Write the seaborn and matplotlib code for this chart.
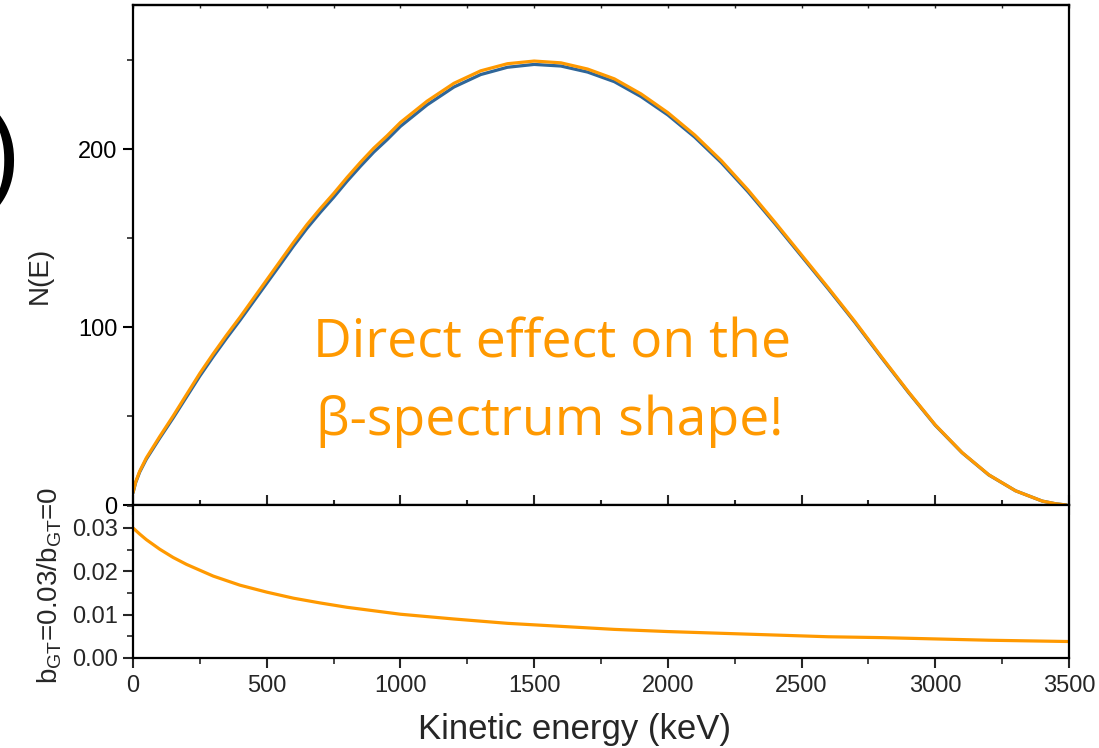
import numpy as np
import pandas as pd
import matplotlib
matplotlib.use("Agg")
import matplotlib.pyplot as plt
import seaborn as sns
from matplotlib.ticker import MultipleLocator, FixedLocator, NullFormatter

# ---------------- data ----------------
energy_keV = [0, 10, 25, 50, 75, 100, 150, 200, 250, 300, 350, 400, 450, 500, 550, 600, 650, 700,
              750, 800, 850, 900, 950, 1000, 1100, 1200, 1300, 1400, 1500, 1600, 1700,
              1800, 1900, 2000, 2100, 2200, 2300, 2400, 2500, 2600, 2700, 2800, 2900,
              3000, 3100, 3200, 3300, 3400, 3450, 3490]
n_bgt_003 = [7, 13, 19, 26.5, 32.5, 38.5, 50, 62, 74, 85, 95.5, 105.5, 116, 126.5, 137, 147.5, 157.5, 166.5,
             175, 184, 192.5, 200.5, 207.5, 215, 227, 237, 244, 248, 249.5, 248.5, 245,
             239.5, 231, 220.5, 208, 193.5, 177, 159, 140.5, 122, 103, 83, 63.5,
             45, 29.5, 17, 8, 2.2, 0.7, 0]
n_bgt_0 = [6.8, 12.6, 18.5, 25.8, 31.7, 37.6, 48.9, 60.7, 72.5, 83.4, 93.8, 103.8, 114.2, 124.6, 135.0, 145.5, 155.4, 164.4,
           172.9, 181.9, 190.3, 198.3, 205.3, 212.8, 224.9, 234.9, 241.9, 246.0, 247.6, 246.7, 243.3,
           237.9, 229.5, 219.2, 206.8, 192.4, 176.0, 158.2, 139.8, 121.4, 102.5, 82.6, 63.2,
           44.8, 29.4, 16.9, 8.0, 2.2, 0.7, 0]

ratio_energy = [0, 25, 50, 100, 150, 200, 300, 400, 500, 600, 700, 800, 900, 1000, 1200,
                1400, 1600, 1800, 2000, 2200, 2400, 2600, 2800, 3000, 3200, 3400, 3500]
ratio_vals = [0.0300, 0.0286, 0.0273, 0.0251, 0.0232, 0.0216, 0.0189, 0.0168, 0.0152,
              0.0138, 0.0127, 0.0117, 0.0109, 0.0101, 0.0090, 0.0080, 0.0073, 0.0066,
              0.0061, 0.0057, 0.0053, 0.0049, 0.0047, 0.0044, 0.0041, 0.0039, 0.0038]

x_ticks = [0, 500, 1000, 1500, 2000, 2500, 3000, 3500]
top_yticks = [0, 100, 200]
bot_yticks = [0.00, 0.01, 0.02, 0.03]
bot_ylabels = ["0.00", "0.01", "0.02", "0.03"]

ORANGE = "#FF9900"
BLUE = "#2F6699"

sns.set_theme(style="ticks")
plt.rcParams["font.family"] = ["Liberation Sans", "DejaVu Sans"]
plt.rcParams["mathtext.fontset"] = "custom"
plt.rcParams["mathtext.rm"] = "Liberation Sans"
plt.rcParams["mathtext.it"] = "Liberation Sans"

W, H = 1099, 748
fig = plt.figure(figsize=(W / 100, H / 100), dpi=100)
L, R = 133 / W, 1069 / W
ax1 = fig.add_axes([L, 1 - 505 / H, R - L, (505 - 5) / H])
ax2 = fig.add_axes([L, 1 - 658 / H, R - L, (658 - 505) / H])

df_top = pd.DataFrame({"E": energy_keV * 2,
                       "N": n_bgt_0 + n_bgt_003,
                       "s": ["b0"] * len(energy_keV) + ["b003"] * len(energy_keV)})
sns.lineplot(data=df_top, x="E", y="N", hue="s", palette={"b0": BLUE, "b003": ORANGE},
             linewidth=2.3, legend=False, ax=ax1, sort=False)
df_bot = pd.DataFrame({"E": ratio_energy, "r": ratio_vals})
sns.lineplot(data=df_bot, x="E", y="r", color=ORANGE, linewidth=2.3, ax=ax2)

for ax in (ax1, ax2):
    ax.set_xlim(0, 3500)
    for sp in ax.spines.values():
        sp.set_visible(True)
        sp.set_color("black")
        sp.set_linewidth(1.6)
    ax.set_xlabel("")
    ax.set_ylabel("")

TICK_FS = 17

ax1.set_ylim(0, 281)
ax1.yaxis.set_major_locator(FixedLocator(top_yticks))
ax1.yaxis.set_minor_locator(MultipleLocator(50))
ax1.xaxis.set_major_locator(FixedLocator(x_ticks))
ax1.xaxis.set_minor_locator(MultipleLocator(250))
ax1.tick_params(axis="x", which="major", direction="inout", length=14, width=1.5,
                bottom=True, top=False, labelbottom=False)
ax1.tick_params(axis="x", which="minor", direction="inout", length=7, width=1.5,
                bottom=True, top=False)
ax1.tick_params(axis="y", which="major", direction="out", length=7, width=1.5,
                labelsize=TICK_FS, pad=4, colors="black")
ax1.tick_params(axis="y", which="minor", direction="out", length=4, width=1.2, left=True)
sec = ax1.secondary_xaxis("top")
sec.xaxis.set_major_locator(FixedLocator(x_ticks))
sec.xaxis.set_minor_locator(MultipleLocator(250))
sec.xaxis.set_major_formatter(NullFormatter())
sec.tick_params(axis="x", which="both", direction="in", length=2, width=1.0)
sec.spines["top"].set_linewidth(1.6)

ax2.set_ylim(0, 0.0353)
ax2.yaxis.set_major_locator(FixedLocator(bot_yticks))
ax2.set_yticklabels(bot_ylabels)
ax2.yaxis.set_minor_locator(MultipleLocator(0.005))
ax2.xaxis.set_major_locator(FixedLocator(x_ticks))
ax2.xaxis.set_minor_locator(MultipleLocator(250))
ax2.tick_params(axis="x", which="major", direction="out", length=7, width=1.5,
                labelsize=TICK_FS, pad=5)
ax2.tick_params(axis="x", which="minor", direction="out", length=4, width=1.2, bottom=True)
ax2.tick_params(axis="y", which="major", direction="out", length=7, width=1.5,
                labelsize=TICK_FS, pad=4)
ax2.tick_params(axis="y", which="minor", direction="out", length=4, width=1.2, left=True)

fig.text(575 / W, 1 - 730 / H, "Kinetic energy (keV)", fontsize=25, ha="center", va="center")
fig.text(40 / W, 1 - 275 / H, "N(E)", rotation=90, fontsize=20, ha="center", va="center")
fig.text(50 / W, 1 - 585 / H, r"b$_{\mathrm{GT}}$=0.03/b$_{\mathrm{GT}}$=0", rotation=90,
         fontsize=20, ha="center", va="center")

txt_kw = dict(ha="center", va="baseline", color=ORANGE, fontsize=38.5,
              family=["Open Sans", "DejaVu Sans"])
fig.text(552 / W, 1 - 358 / H, "Direct effect on the", **txt_kw)
fig.text(550 / W, 1 - 435 / H, "β-spectrum shape!", **txt_kw)

# large cropped parenthesis on the far left (cut at the edge as in the reference)
fig.text(22 / W, 1 - 160 / H, ")", fontsize=78, ha="right", va="center",
         family=["Roboto", "DejaVu Sans"], color="black")

fig.savefig("out.png", dpi=100)
